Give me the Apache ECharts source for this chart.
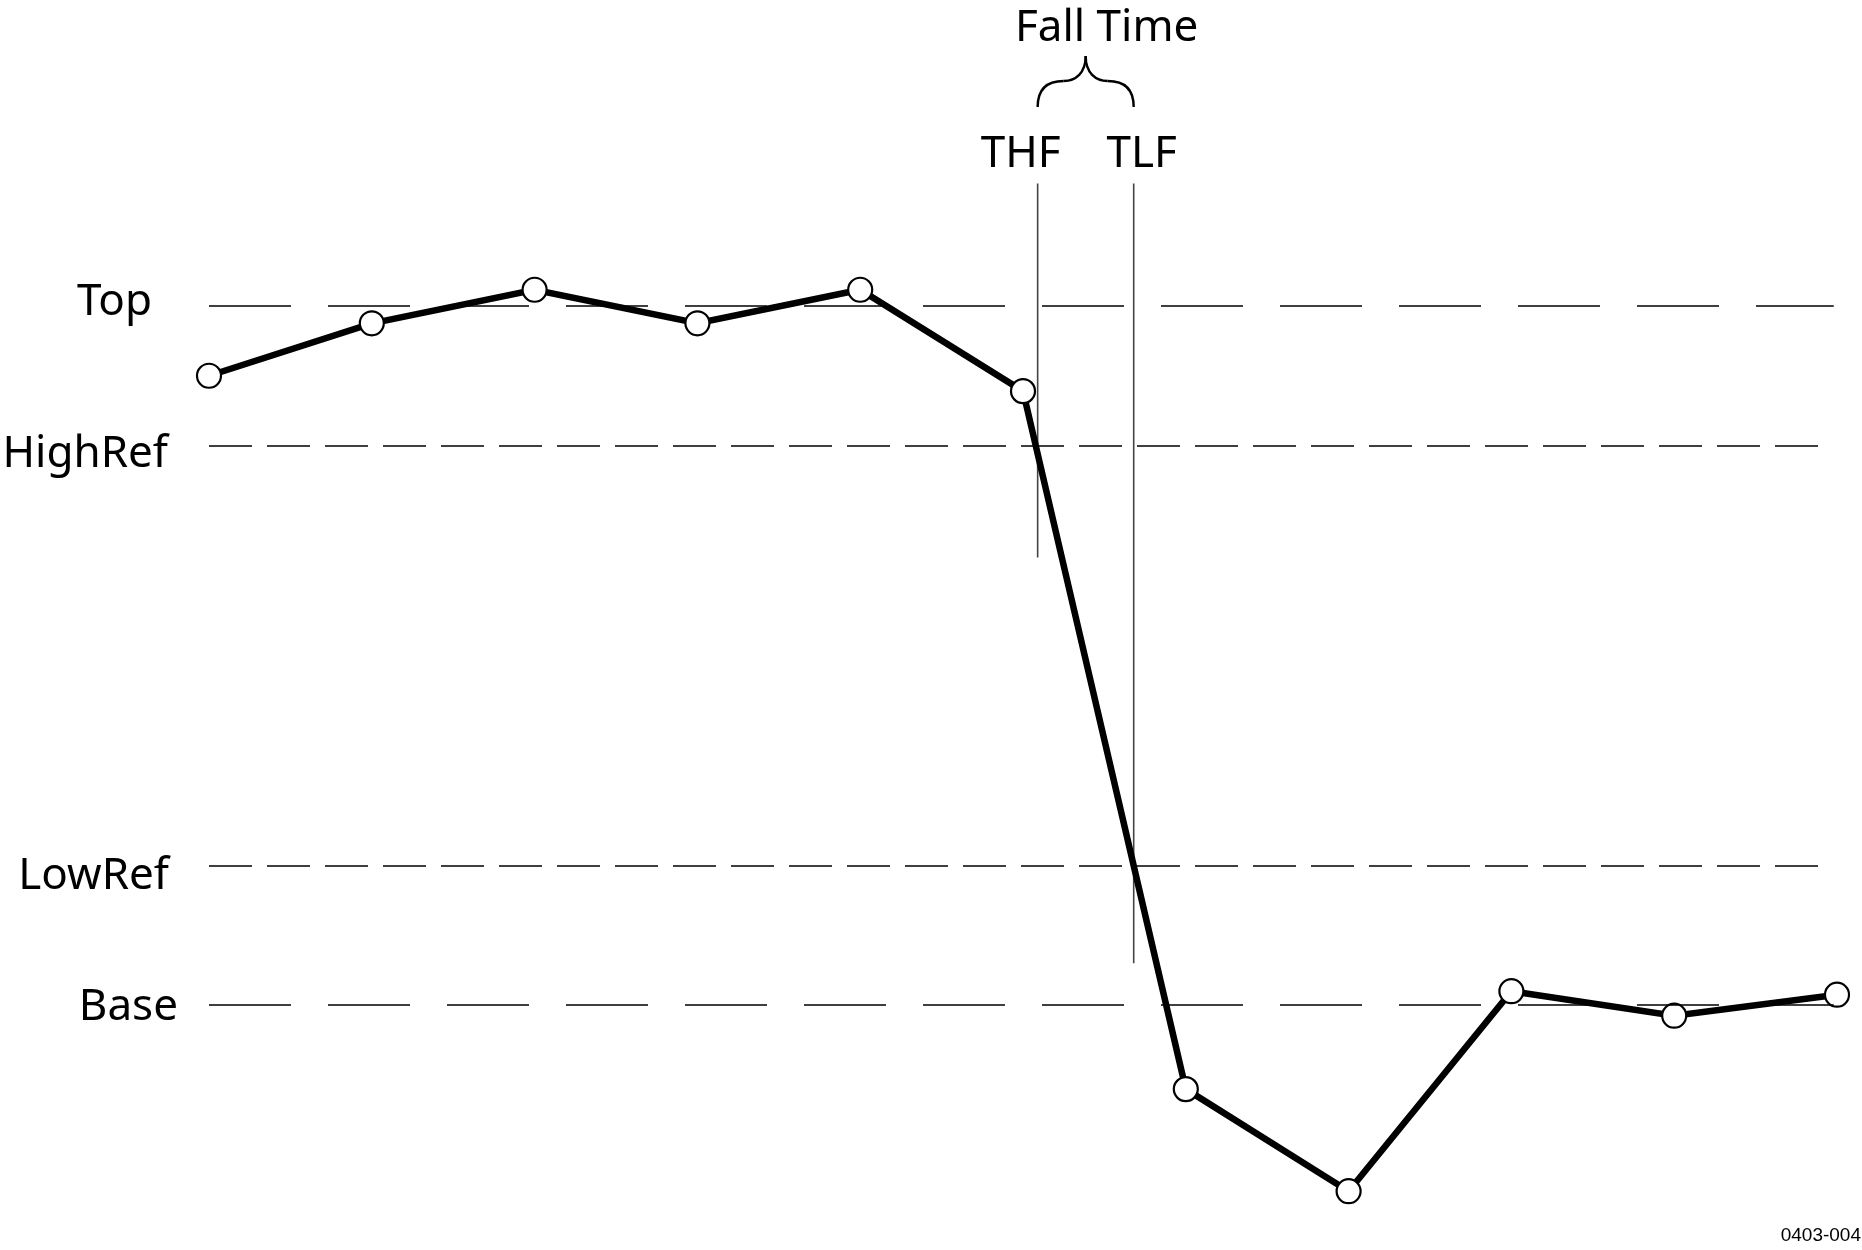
<!DOCTYPE html>
<html>
<head>
<meta charset="utf-8">
<script src="https://cdn.jsdelivr.net/npm/echarts@6/dist/echarts.min.js"></script>
<style>
html,body{margin:0;padding:0;background:#fff;}
#main{width:1862px;height:1250px;}
</style>
</head>
<body>
<div id="main"></div>
<script>
// ---- data ----
const sampleX = [0, 1, 2, 3, 4, 5, 6, 7, 8, 9, 10];
const waveValues = [90, 97.5, 102.3, 97.5, 102.3, 87.8, -12, -26.6, 2, -1.5, 1.5];
const refNames = ['Top', 'HighRef', 'LowRef', 'Base'];
const refLevels = [100, 80, 20, 0];
const refEndX = [9.98, 9.95, 9.95, 9.98];
const cursorNames = ['THF', 'TLF'];
const cursorX = [5.09, 5.68];
const cursorTop = [117.5, 117.5];
const cursorBottom = [64, 6];
const braceTitle = 'Fall Time';
const figureId = '0403-004';

// ---- styles (not data) ----
const FONT = 'Noto Sans';
const refDash = [[82, 37], [43, 15], [43, 15], [82, 37]];
const refLabelGap = [57, 41, 40, 31];   // px between label right edge and line start
const refLabelDy = [-3, 9, 11, 2];

const chart = echarts.init(document.getElementById('main'), null, {renderer: 'canvas'});

const option = {
  animation: false,
  backgroundColor: '#ffffff',
  grid: {left: 209, right: 25, top: 96, bottom: 35, containLabel: false},
  xAxis: {type: 'value', min: 0, max: 10, show: false},
  yAxis: {type: 'value', min: -30, max: 130, show: false},
  series: [
    {
      type: 'line',
      name: 'refs',
      data: [],
      silent: true,
      markLine: {
        silent: true,
        symbol: ['none', 'none'],
        label: {show: false},
        data: refLevels.map((v, i) => ([
          {coord: [0, v], lineStyle: {color: '#000', width: 1.5, type: refDash[i]}},
          {coord: [refEndX[i], v]}
        ]))
      }
    },
    ...cursorX.map((cx, i) => ({
      type: 'line',
      name: cursorNames[i],
      data: [[cx, cursorTop[i]], [cx, cursorBottom[i]]],
      symbol: 'none',
      silent: true,
      lineStyle: {color: '#444', width: 1.6},
      z: 1
    })),
    {
      type: 'line',
      name: 'wave',
      data: sampleX.map((x, i) => [x, waveValues[i]]),
      symbol: 'circle',
      symbolSize: 24,
      showAllSymbol: true,
      lineStyle: {color: '#000', width: 6.5, join: 'miter'},
      itemStyle: {color: '#fff', borderColor: '#000', borderWidth: 2.2},
      z: 3
    }
  ]
};
chart.setOption(option);

const px = (x, y) => chart.convertToPixel({gridIndex: 0}, [x, y]);
const g = [];
const leftPx = px(0, 0)[0];
refLevels.forEach((v, i) => {
  const p = px(0, v);
  g.push({
    type: 'text',
    style: {
      text: refNames[i], x: leftPx - refLabelGap[i], y: p[1] + refLabelDy[i],
      align: 'right', verticalAlign: 'middle',
      font: '44px "' + FONT + '"', fill: '#000'
    }
  });
});
const xl = px(cursorX[0], 0)[0];
const xr = px(cursorX[1], 0)[0];
const mid = (xl + xr) / 2;
const yb = 107, ya = 81, yt = 56;
const braceStyle = {fill: 'none', stroke: '#000', lineWidth: 2.4};
[[xl, 1], [xr, -1]].forEach(([x0, s]) => {
  g.push({
    type: 'bezierCurve',
    shape: {x1: x0, y1: yb, cpx1: x0, cpy1: ya + 8, cpx2: x0 + s * 10, cpy2: ya, x2: x0 + s * 26, y2: ya},
    style: braceStyle
  });
  g.push({
    type: 'bezierCurve',
    shape: {x1: x0 + s * 26, y1: ya, cpx1: mid - s * 10, cpy1: ya, cpx2: mid, cpy2: ya - 8, x2: mid, y2: yt},
    style: braceStyle
  });
});
g.push({
  type: 'text',
  style: {text: braceTitle, x: mid + 21, y: 28, align: 'center', verticalAlign: 'middle',
    font: '44px "' + FONT + '"', fill: '#000'}
});
const cursorDx = [-17, 8];
cursorNames.forEach((n, i) => {
  const cx = px(cursorX[i], 0)[0];
  g.push({
    type: 'text',
    style: {text: n, x: cx + cursorDx[i], y: 154, align: 'center', verticalAlign: 'middle',
      font: '44px "' + FONT + '"', fill: '#000'}
  });
});
g.push({
  type: 'text',
  style: {text: figureId, x: 1861, y: 1236, align: 'right', verticalAlign: 'middle',
    font: '19px "Liberation Sans", Arial, sans-serif', fill: '#000'}
});
chart.setOption({graphic: g});
</script>
</body>
</html>
